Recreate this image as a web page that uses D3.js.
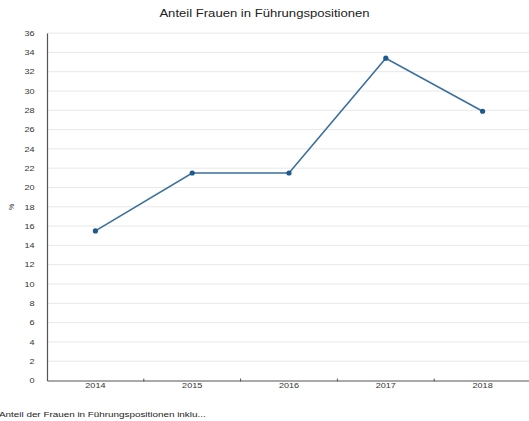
<!DOCTYPE html>
<html><head><meta charset="utf-8">
<script src="https://cdn.jsdelivr.net/npm/d3@7"></script>
<style>
html,body{margin:0;padding:0;background:#fff;overflow:hidden;}
svg{display:block;font-family:"Liberation Sans",Arial,sans-serif;}
</style></head>
<body>
<svg id="chart" width="529" height="421"></svg>
<script>
const years = ["2014","2015","2016","2017","2018"];
const values = [15.5, 21.5, 21.5, 33.4, 27.9];
const yTicks = [0,2,4,6,8,10,12,14,16,18,20,22,24,26,28,30,32,34,36];
const title = "Anteil Frauen in Führungspositionen";
const yLabel = "%";
const caption = "Anteil der Frauen in Führungspositionen inklu...";

const SX = 1.3; // horizontal stretch of the reference's text
const svg = d3.select("#chart");
const mLeft = 47, mRight = 531, mTop = 33.1, mBottom = 380.5;

const x = d3.scaleBand().domain(years).range([mLeft, mRight]);
const y = d3.scaleLinear().domain([0, 36]).range([mBottom, mTop]);

// gridlines
svg.append("g").selectAll("line").data(yTicks.filter(d => d > 0)).join("line")
  .attr("x1", mLeft).attr("x2", 529)
  .attr("y1", d => y(d)).attr("y2", d => y(d))
  .attr("stroke", "#e8e8e8").attr("stroke-width", 1);

// y axis
const yAxis = svg.append("g").attr("transform", `translate(${mLeft},0)`)
  .call(d3.axisLeft(y).tickValues(yTicks).tickSize(0).tickPadding(0));
yAxis.select(".domain").attr("stroke", "#555").attr("stroke-width", 1.2);
yAxis.selectAll("text").attr("font-size", 7).attr("fill", "#333")
  .attr("font-family", "Liberation Sans, Arial, sans-serif")
  .attr("x", -12.5 / SX).attr("transform", `scale(${SX},1)`);

// x axis
const xAxis = svg.append("g").attr("transform", `translate(0,${mBottom})`)
  .call(d3.axisBottom(x).tickSize(0).tickPadding(3));
xAxis.select(".domain").attr("stroke", "#555").attr("stroke-width", 1.2);
xAxis.selectAll("text").attr("font-size", 7).attr("fill", "#333")
  .attr("font-family", "Liberation Sans, Arial, sans-serif")
  .attr("transform", `scale(${SX},1)`);
// boundary ticks between bands
svg.append("g").selectAll("line").data(years.slice(1)).join("line")
  .attr("x1", d => x(d)).attr("x2", d => x(d))
  .attr("y1", mBottom - 2).attr("y2", mBottom + 1)
  .attr("stroke", "#555").attr("stroke-width", 1);

// line
const cx = d => x(d) + x.bandwidth() / 2;
const data = years.map((yr, i) => ({yr, v: values[i]}));
svg.append("path").datum(data)
  .attr("fill", "none").attr("stroke", "#3b6f9c").attr("stroke-width", 1.6)
  .attr("d", d3.line().x(d => cx(d.yr)).y(d => y(d.v)));
svg.append("g").selectAll("circle").data(data).join("circle")
  .attr("cx", d => cx(d.yr)).attr("cy", d => y(d.v)).attr("r", 2.6)
  .attr("fill", "#1f5a8c");

// title
svg.append("text").attr("transform", `translate(264.5,16.7) scale(${SX + 0.01},1)`)
  .attr("text-anchor", "middle").attr("font-size", 10).attr("fill", "#222").text(title);

// y label
svg.append("text").attr("transform", "translate(14,207) rotate(-90)")
  .attr("text-anchor", "middle").attr("font-size", 7).attr("fill", "#333").text(yLabel);

// caption
svg.append("text").attr("transform", `translate(-1,416.5) scale(${SX},1)`)
  .attr("font-size", 7.6).attr("fill", "#222").text(caption);
</script>
</body></html>
